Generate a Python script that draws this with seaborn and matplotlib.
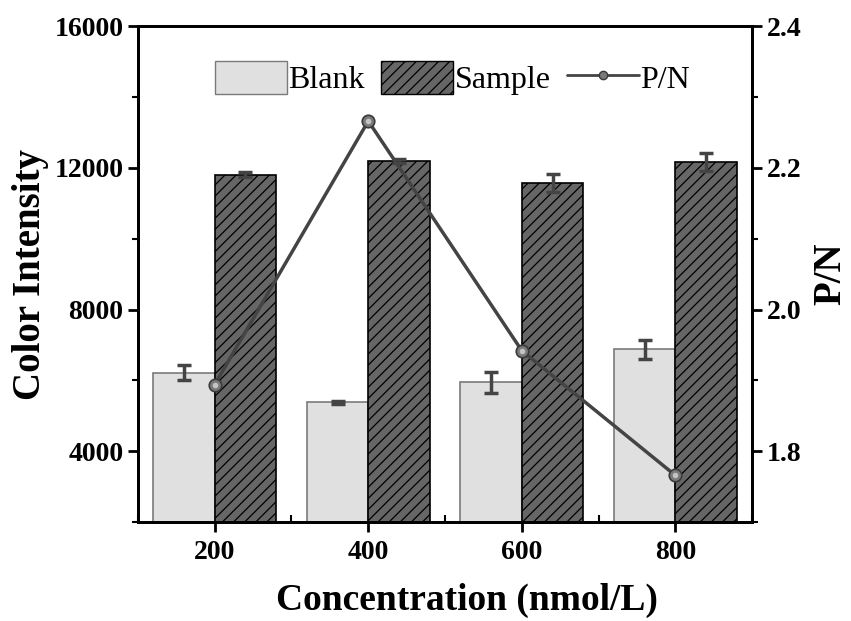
import numpy as np
import pandas as pd
import matplotlib
matplotlib.use("Agg")
import matplotlib.pyplot as plt
from matplotlib.patches import Patch
from matplotlib.lines import Line2D
from matplotlib.ticker import MultipleLocator
import seaborn as sns

# data
concentrations = ["200", "400", "600", "800"]
blank = [6225, 5380, 5945, 6875]
blank_err = [220, 40, 290, 270]
sample = [11800, 12195, 11575, 12170]
sample_err = [70, 50, 260, 260]
pn_ratio = [1.894, 2.266, 1.942, 1.766]

df = pd.DataFrame({
    "Concentration": concentrations * 2,
    "Intensity": blank + sample,
    "Group": ["Blank"] * len(blank) + ["Sample"] * len(sample),
})

sns.set_style("ticks")
plt.rcParams["font.family"] = ["Liberation Serif", "DejaVu Serif"]
plt.rcParams["hatch.linewidth"] = 0.9
for key in ["text.color", "axes.labelcolor", "xtick.color", "ytick.color", "axes.edgecolor"]:
    plt.rcParams[key] = "black"

fig = plt.figure(figsize=(8.51, 6.21), dpi=100)
ax = fig.add_axes([0.162, 0.159, 0.722, 0.799])

sns.barplot(data=df, x="Concentration", y="Intensity", hue="Group",
            palette={"Blank": "#e0e0e0", "Sample": "#666666"},
            errorbar=None, width=0.8, saturation=1, legend=False, ax=ax)

# style bars + error bars
styles = [("#7a7a7a", ""), ("black", "///")]
errs = [blank_err, sample_err]
for cont, (ec, hatch), err in zip(ax.containers, styles, errs):
    xs = []
    ys = []
    for bar in cont:
        bar.set_edgecolor(ec)
        bar.set_linewidth(1.2)
        bar.set_hatch(hatch)
        xs.append(bar.get_x() + bar.get_width() / 2)
        ys.append(bar.get_height())
    ax.errorbar(xs, ys, yerr=err, fmt="none", ecolor="#444444",
                elinewidth=2.5, capsize=5, capthick=2.5, zorder=3)

ax.set_xlim(-0.5, 3.5)
ax.set_ylim(2000, 16000)
ax.set_yticks([4000, 8000, 12000, 16000])
ax.yaxis.set_minor_locator(MultipleLocator(2000))
ax.set_xticks([-0.5, 0.5, 1.5, 2.5, 3.5], minor=True)
ax.set_xlabel("Concentration (nmol/L)", fontsize=27, fontweight="bold", labelpad=13)
ax.xaxis.label.set_x(0.536)
ax.set_ylabel("Color Intensity", fontsize=28, fontweight="bold", labelpad=4)
ax.tick_params(axis="x", which="major", direction="out", length=7, width=2, labelsize=20, pad=6)
ax.tick_params(axis="x", which="minor", direction="in", length=5, width=1.5)
ax.tick_params(axis="y", which="major", direction="out", length=7, width=2, labelsize=20)
ax.tick_params(axis="y", which="minor", direction="out", length=4, width=1.5)
for lab in ax.get_xticklabels() + ax.get_yticklabels():
    lab.set_fontweight("bold")

# P/N on second axis
xpos = np.arange(len(concentrations))
ax2 = ax.twinx()
sns.lineplot(x=xpos, y=pn_ratio, ax=ax2,
             color="#444444", linewidth=2.5, marker="o", markersize=9,
             markerfacecolor="#7a7a7a", markeredgecolor="#3a3a3a",
             markeredgewidth=1.2)
# lighter centre for the ball-style markers
sns.lineplot(x=xpos, y=pn_ratio, ax=ax2, linestyle="none", marker="o",
             markersize=4, markerfacecolor="#c4c4c4", markeredgewidth=0)
ax2.set_ylim(1.7, 2.4)
ax2.set_yticks([1.8, 2.0, 2.2, 2.4])
ax2.yaxis.set_minor_locator(MultipleLocator(0.1))
ax2.set_ylabel("P/N", fontsize=28, fontweight="bold", labelpad=8)
ax2.tick_params(axis="y", which="major", direction="out", length=7, width=2, labelsize=20)
ax2.tick_params(axis="y", which="minor", direction="out", length=4, width=1.5)
for lab in ax2.get_yticklabels():
    lab.set_fontweight("bold")

for a in (ax, ax2):
    for sp in a.spines.values():
        sp.set_visible(True)
        sp.set_linewidth(2)
        sp.set_color("black")

handles = [
    Patch(facecolor="#e0e0e0", edgecolor="#7a7a7a", label="Blank"),
    Patch(facecolor="#666666", edgecolor="black", hatch="///", label="Sample"),
    Line2D([], [], color="#444444", linewidth=2, marker="o", markersize=6,
           markerfacecolor="#7a7a7a", markeredgecolor="#3a3a3a", label="P/N"),
]
ax2.legend(handles=handles, loc="center", bbox_to_anchor=(0.512, 0.895), ncol=3,
           frameon=False, fontsize=23, handlelength=2.26, handleheight=1.19,
           handletextpad=0.05, columnspacing=0.5, borderpad=0)

fig.savefig("out.png", dpi=100)
